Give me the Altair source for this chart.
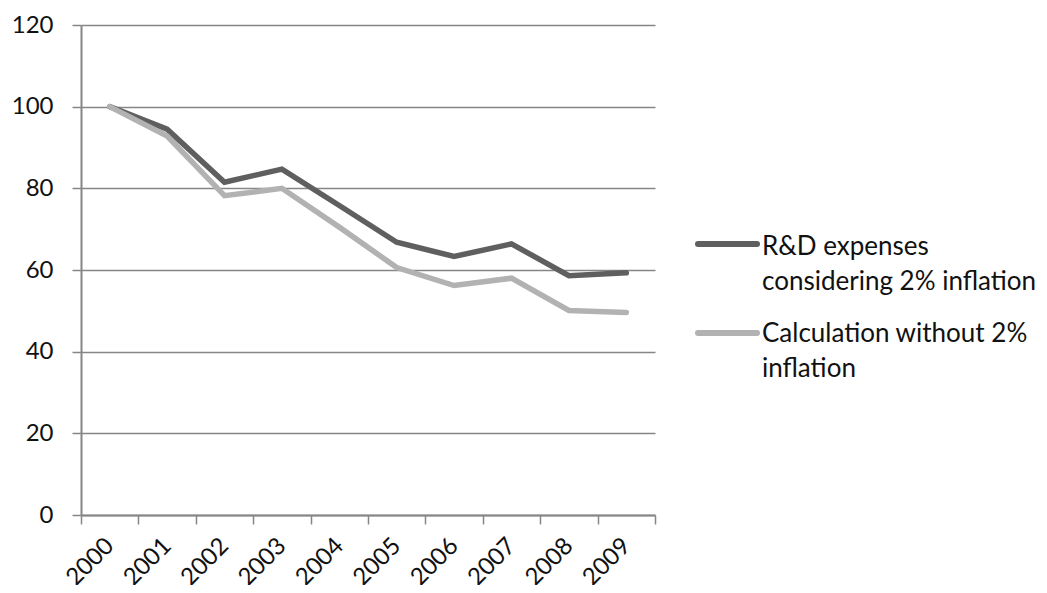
import altair as alt
import pandas as pd

years = ["2000", "2001", "2002", "2003", "2004", "2005", "2006", "2007", "2008", "2009"]
rd_inflation = [100, 94.5, 81.5, 84.7, 75.8, 66.8, 63.3, 66.4, 58.6, 59.3]
without_inflation = [100, 92.8, 78.2, 80.0, 70.5, 60.6, 56.2, 58.0, 50.1, 49.6]
series_names = ["R&D expenses considering 2% inflation", "Calculation without 2% inflation"]
legend_lines = [["R&D expenses", "considering 2% inflation"], ["Calculation without 2%", "inflation"]]
series_colors = ["#5f5f5f", "#b2b2b2"]

rows = []
for y, a, b in zip(years, rd_inflation, without_inflation):
    rows.append({"year": y, "series": series_names[0], "value": a})
    rows.append({"year": y, "series": series_names[1], "value": b})
df = pd.DataFrame(rows)

font = "Lato"
color_scale = alt.Scale(domain=series_names, range=series_colors)

lines = alt.Chart(df).mark_line(strokeWidth=5.5, strokeCap="round", strokeJoin="miter").encode(
    x=alt.X("year:N", sort=years,
            scale=alt.Scale(type="band", paddingInner=0, paddingOuter=0),
            axis=alt.Axis(title=None, labelAngle=-45, labelAlign="right", labelBaseline="middle",
                          tickBand="extent", tickSize=9, labelPadding=18,
                          labelFontSize=24, labelFont=font, labelColor="#111",
                          domainColor="#868686", domainWidth=2, tickColor="#868686", tickWidth=1.5,
                          grid=False)),
    y=alt.Y("value:Q", scale=alt.Scale(domain=[0, 120], nice=False),
            axis=alt.Axis(title=None, values=[0, 20, 40, 60, 80, 100, 120], tickSize=9,
                          labelPadding=19, labelFontSize=24, labelFont=font, labelColor="#111",
                          domainColor="#868686", domainWidth=2, tickColor="#868686", tickWidth=1.5,
                          grid=True, gridColor="#868686", gridWidth=1.5)),
    color=alt.Color("series:N", sort=series_names, scale=color_scale, legend=None),
)

layers = [lines]
legend_sym_y = [219, 308]
legend_txt_y = [230, 317]
for i, name in enumerate(series_names):
    one = pd.DataFrame({"series": [name]})
    sym = alt.Chart(one).mark_rule(strokeWidth=6, strokeCap="round").encode(
        x=alt.value(617), x2=alt.value(676), y=alt.value(legend_sym_y[i]),
        color=alt.Color("series:N", scale=color_scale, legend=None),
    )
    txt = alt.Chart(one).mark_text(text=legend_lines[i], align="left", baseline="alphabetic",
                                   fontSize=26, font=font, color="#111", lineHeight=35).encode(
        x=alt.value(681), y=alt.value(legend_txt_y[i]),
    )
    layers += [sym, txt]

chart = alt.layer(*layers).properties(
    width=574, height=490,
    autosize=alt.AutoSizeParams(type="none"),
    padding={"left": 73, "top": 17, "right": 380, "bottom": 70},
).configure_view(stroke=None)

chart.save("out.html", embed_options={"renderer": "svg", "actions": False})
